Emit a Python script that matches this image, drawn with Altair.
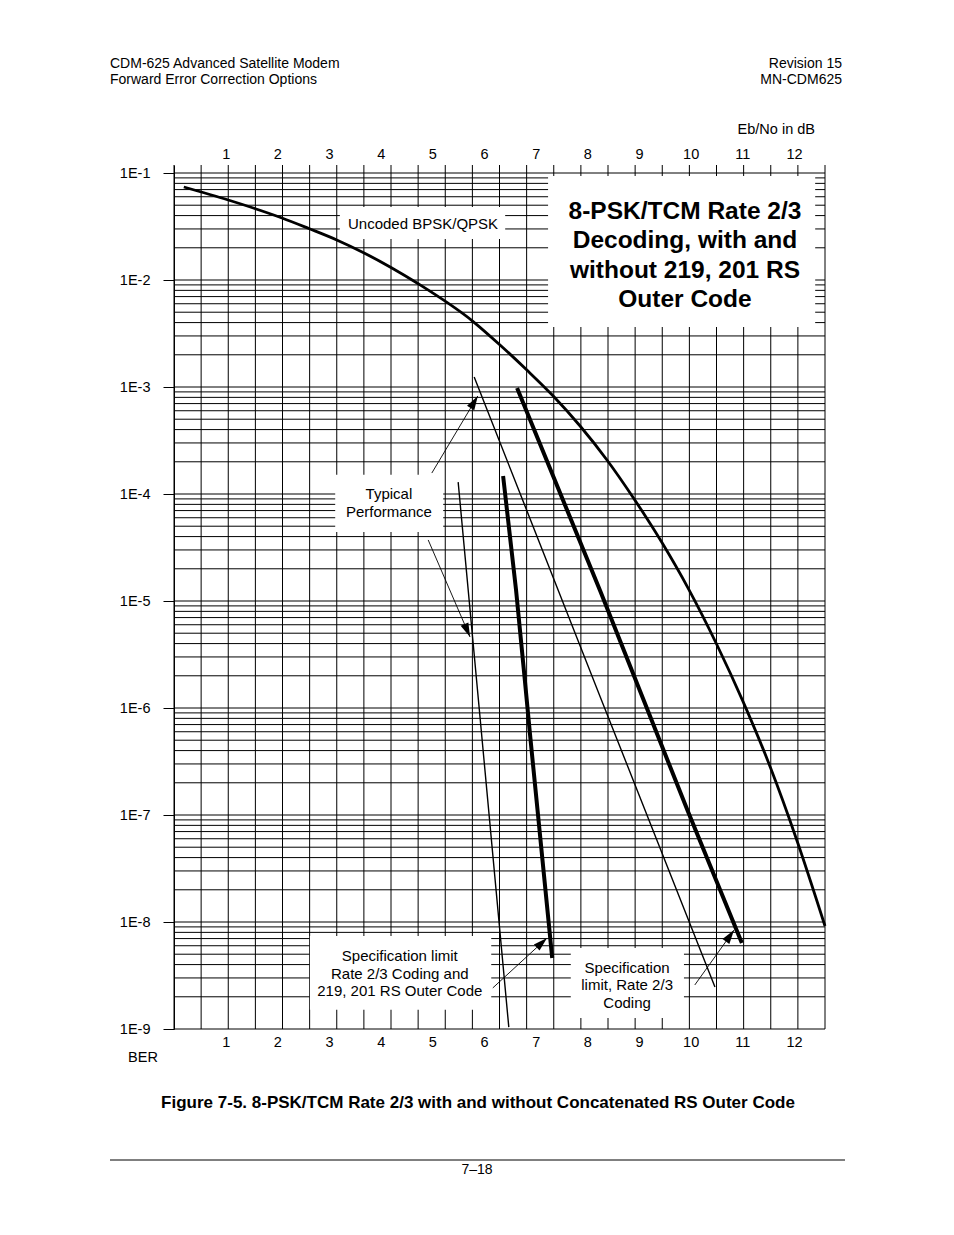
import math
import altair as alt
import pandas as pd

# ---------------- data ----------------
# Uncoded BPSK/QPSK (theoretical) curve
uncoded_db = [0.19, 1.05, 1.59, 2.09, 2.61, 3.15, 3.68, 4.20, 4.72, 5.79, 6.31,
              6.83, 7.34, 7.86, 8.38, 8.88, 9.45, 9.95, 10.51, 11.01, 11.54, 12.06, 12.60]
uncoded_ber = [7.40e-2, 5.59e-2, 4.61e-2, 3.80e-2, 3.03e-2, 2.37e-2, 1.79e-2, 1.31e-2,
               9.27e-3, 4.09e-3, 2.47e-3, 1.44e-3, 8.24e-4, 4.32e-4, 2.08e-4,
               9.38e-5, 3.48e-5, 1.32e-5, 3.88e-6, 1.16e-6, 2.81e-7, 5.72e-8, 9.18e-9]

# Specification limit, Rate 2/3 coding (thick)
spec_db = [6.64, 8.25, 9.95, 10.99]
spec_ber = [9.79e-4, 1.24e-5, 1.07e-7, 6.37e-9]

# Typical performance, Rate 2/3 coding (thin)
typ_db = [5.81, 8.25, 10.47]
typ_ber = [1.24e-3, 1.27e-6, 2.47e-9]

# Specification limit, Rate 2/3 + RS outer code (thick)
spec_rs_db = [6.37, 6.62, 6.89, 7.32]
spec_rs_ber = [1.47e-4, 1.27e-5, 5.72e-7, 4.61e-9]

# Typical performance, Rate 2/3 + RS outer code (thin)
typ_rs_db = [5.50, 6.00, 6.48]
typ_rs_ber = [1.29e-4, 3.27e-7, 1.04e-9]

# annotation arrows: start (dB, BER) -> tip (dB, BER)
arrow_db0 = [4.99, 4.92, 6.17, 10.08]
arrow_ber0 = [1.57e-4, 3.72e-5, 2.42e-9, 2.58e-9]
arrow_db1 = [5.88, 5.73, 7.22, 10.84]
arrow_ber1 = [8.24e-4, 4.61e-6, 7.08e-9, 8.4e-9]

# label boxes (white background) in data units
box_db0 = [3.21, 7.24, 3.12, 2.63, 7.68]
box_db1 = [6.41, 12.41, 5.21, 6.14, 9.87]
box_ber0 = [4.81e-2, 9.37e-2, 1.51e-4, 7.4e-9, 5.71e-9]
box_ber1 = [2.42e-2, 3.64e-3, 4.42e-5, 1.51e-9, 1.27e-9]

# label texts (position of the first line's centre)
label_text = ["Uncoded BPSK/QPSK", "Typical\nPerformance",
              "Specification limit\nRate 2/3 Coding and\n219, 201 RS Outer Code",
              "Specification\nlimit, Rate 2/3\nCoding"]
label_db = [4.82, 4.16, 4.37, 8.77]
label_ber = [3.34e-2, 1.0e-4, 4.81e-9, 3.72e-9]
title_text = "8-PSK/TCM Rate 2/3\nDecoding, with and\nwithout 219, 201 RS\nOuter Code"
title_db = [9.89]
title_ber = [4.32e-2]

x_tick_labels = [1, 2, 3, 4, 5, 6, 7, 8, 9, 10, 11, 12]
decades = [1e-1, 1e-2, 1e-3, 1e-4, 1e-5, 1e-6, 1e-7, 1e-8, 1e-9]
minor_mult = [1, 2, 3, 4, 5, 6, 7, 8, 9]

# ---------------- layout ----------------
W, H = 651, 864
X_MAX = 12.6
Y_MIN, Y_TOP = 1e-9, 0.1188
FONT = "Liberation Sans"

xs = alt.Scale(domain=[0, X_MAX], nice=False, zero=False)
ys = alt.Scale(type="log", domain=[Y_MIN, Y_TOP], nice=False)

hgrid_vals = [m * d for d in decades[1:] for m in minor_mult] + [1e-1]
vgrid_vals = [i * X_MAX / 24 for i in range(25)]

yaxis = alt.Axis(values=decades, labelExpr="'1E' + round(log(datum.value) / LN10)",
                 tickSize=11, tickColor="black", tickWidth=1, domainColor="black",
                 domainWidth=1, grid=False, labelPadding=13, labelFont=FONT,
                 labelFontSize=14.5, labelColor="black", title=None)


def xaxis(orient, pad):
    return alt.Axis(orient=orient, values=x_tick_labels, ticks=False, domain=False,
                    grid=False, labelPadding=pad, labelFont=FONT, labelFontSize=14.5,
                    labelColor="black", title=None, labelFlush=False, labelOverlap=False)


def X(f, axis=None):
    return alt.X(f, type="quantitative", scale=xs, axis=axis)


def Y(f):
    return alt.Y(f, type="quantitative", scale=ys, axis=yaxis)


layers = []

# grid
layers.append(alt.Chart(pd.DataFrame({"ber": hgrid_vals}))
              .mark_rule(color="black", strokeWidth=1).encode(y=Y("ber")))
layers.append(alt.Chart(pd.DataFrame({"db": vgrid_vals}))
              .mark_rule(color="black", strokeWidth=1)
              .encode(x=X("db", xaxis("bottom", 6))))
layers.append(alt.Chart(pd.DataFrame({"db": x_tick_labels}))
              .mark_rule(opacity=0).encode(x=X("db", xaxis("top", 4))))

# white label boxes
boxes = pd.DataFrame({"x0": box_db0, "x1": box_db1, "y0": box_ber0, "y1": box_ber1})
layers.append(alt.Chart(boxes).mark_rect(fill="white")
              .encode(x=X("x0"), x2="x1", y=Y("y0"), y2="y1"))


# curves
def curve(dbs, bers, width, interp):
    df = pd.DataFrame({"db": dbs, "ber": bers, "i": list(range(len(dbs)))})
    return (alt.Chart(df).mark_line(color="black", strokeWidth=width, interpolate=interp)
            .encode(x=X("db"), y=Y("ber"), order="i:Q"))


layers.append(curve(uncoded_db, uncoded_ber, 2.8, "monotone"))
layers.append(curve(spec_db, spec_ber, 4, "monotone"))
layers.append(curve(typ_db, typ_ber, 1.4, "monotone"))
layers.append(curve(spec_rs_db, spec_rs_ber, 4, "monotone"))
layers.append(curve(typ_rs_db, typ_rs_ber, 1.4, "monotone"))


# arrows
def px(d):
    return d / X_MAX * W


def py(b):
    return H * (math.log10(Y_TOP) - math.log10(b)) / (math.log10(Y_TOP) - math.log10(Y_MIN))


angles = []
for a, b, c, d in zip(arrow_db0, arrow_ber0, arrow_db1, arrow_ber1):
    dx = px(c) - px(a)
    dy = py(d) - py(b)
    angles.append(math.degrees(math.atan2(dx, -dy)) % 360)

arrows = pd.DataFrame({"x0": arrow_db0, "y0": arrow_ber0, "x1": arrow_db1,
                       "y1": arrow_ber1, "ang": angles})
layers.append(alt.Chart(arrows).mark_rule(color="black", strokeWidth=0.9)
              .encode(x=X("x0"), x2="x1", y=Y("y0"), y2="y1"))
layers.append(alt.Chart(arrows)
              .mark_point(shape="M0,0L-0.3,1L0.3,1Z", filled=True, size=784,
                          color="black", opacity=1, strokeWidth=0)
              .encode(x=X("x1"), y=Y("y1"), angle=alt.Angle("ang:Q", scale=None)))

# labels inside the plot
labels = pd.DataFrame({"t": label_text, "db": label_db, "ber": label_ber})
layers.append(alt.Chart(labels)
              .mark_text(font=FONT, fontSize=15, lineBreak="\n", lineHeight=17.5,
                         align="center", baseline="middle", color="black")
              .encode(x=X("db"), y=Y("ber"), text="t:N"))
titled = pd.DataFrame({"t": [title_text], "db": title_db, "ber": title_ber})
layers.append(alt.Chart(titled)
              .mark_text(font=FONT, fontSize=24.5, fontWeight="bold", lineBreak="\n",
                         lineHeight=29.3, align="center", baseline="middle", color="black")
              .encode(x=X("db"), y=Y("ber"), text="t:N"))

# page furniture (header, axis captions, figure caption, footer)
page_text = ["CDM-625 Advanced Satellite Modem", "Forward Error Correction Options",
             "Revision 15", "MN-CDM625", "Eb/No in dB", "BER",
             "Figure 7-5. 8-PSK/TCM Rate 2/3 with and without Concatenated RS Outer Code",
             "7\u201318"]
page_x = [-64, -64, 668, 668, 641, -31, 304, 303]
page_y = [-101, -85, -101, -85, -35, 893, 938, 1005]
page_align = ["left", "left", "right", "right", "right", "center", "center", "center"]
page_size = [14, 14, 14, 14, 14.5, 14.5, 17, 14]
page_weight = ["normal"] * 6 + ["bold", "normal"]

dummy = pd.DataFrame({"a": [0]})
for t, x, y, al, fs, fw in zip(page_text, page_x, page_y, page_align, page_size, page_weight):
    layers.append(alt.Chart(dummy)
                  .mark_text(text=t, font=FONT, fontSize=fs, fontWeight=fw, align=al,
                             baseline="middle", color="black")
                  .encode(x=alt.value(x), y=alt.value(y)))

layers.append(alt.Chart(dummy).mark_rule(color="black", strokeWidth=1)
              .encode(x=alt.value(-64), x2=alt.value(671), y=alt.value(995)))

chart = (alt.layer(*layers)
         .resolve_axis(x="independent")
         .properties(width=W, height=H, autosize=alt.AutoSizeParams(type="none"),
                     padding={"left": 166, "top": 157, "right": 121, "bottom": 180},
                     background="white")
         .configure_view(stroke=None))

chart.save("out.html", embed_options={"renderer": "svg", "actions": False})
